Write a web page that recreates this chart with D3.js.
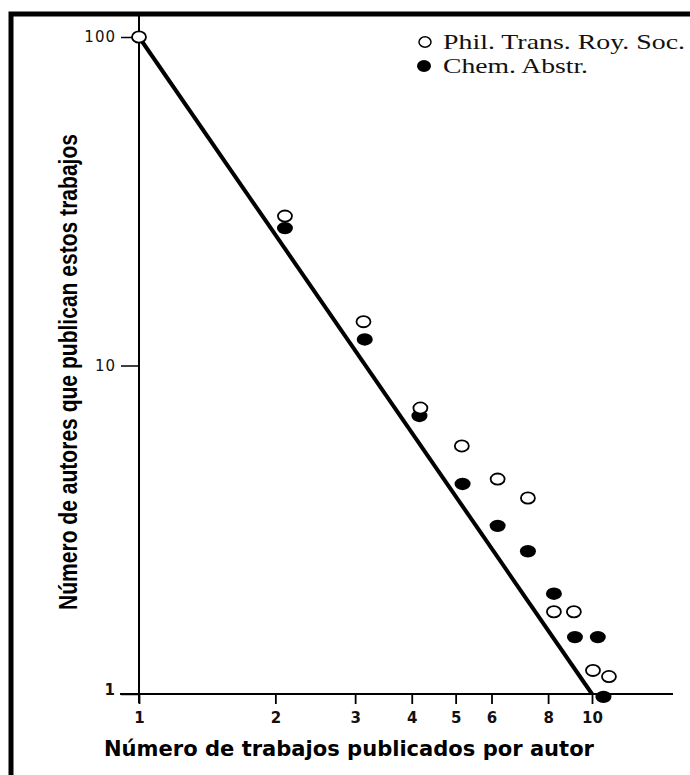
<!DOCTYPE html>
<html>
<head>
<meta charset="utf-8">
<script src="https://cdn.jsdelivr.net/npm/d3@7"></script>
<style>
  body { margin: 0; background: #fff; }
  svg { display: block; }
</style>
</head>
<body>
<div id="svgcontainer"></div>
<script>
var width = 690;
var height = 775;

// Phil. Trans. Roy. Soc. (open circles)
var philX = [1, 2.10, 3.13, 4.18, 5.16, 6.19, 7.22, 8.24, 9.12, 10.05, 10.9];
var philY = [100, 28.5, 13.6, 7.42, 5.69, 4.51, 3.95, 1.78, 1.78, 1.18, 1.13];
// Chem. Abstr. (filled circles)
var chemX = [2.10, 3.15, 4.16, 5.18, 6.19, 7.22, 8.24, 9.17, 10.3, 10.6];
var chemY = [26.2, 12.0, 7.02, 4.36, 3.25, 2.72, 2.02, 1.49, 1.49, 0.98];
// fitted line
var fitX = [1, 10];
var fitY = [100, 1];

var xTicks = [1, 2, 3, 4, 5, 6, 8, 10];
var yTicks = [100, 10, 1];
var legendLabels = ["Phil. Trans. Roy. Soc.", "Chem. Abstr."];
var xTitle = "Número de trabajos publicados por autor";
var yTitle = "Número de autores que publican estos trabajos";

function drawChart() {
    var svg = d3.select("#svgcontainer").append("svg").attr("width", width).attr("height", height);

    svg.append("rect").attr("x", 0).attr("y", 0).attr("width", width).attr("height", height).attr("fill", "#fff");
    // scanned frame, cut on the right and at the bottom
    svg.append("rect").attr("x", 11).attr("y", 14).attr("width", 720).attr("height", 800)
        .attr("fill", "none").attr("stroke", "#000").attr("stroke-width", 5);

    var x = d3.scaleLog().domain([1, 10]).range([139, 592]);
    var y = d3.scaleLog().domain([1, 100]).range([694, 37]);

    // axis lines
    svg.append("line").attr("x1", x(1)).attr("y1", 15).attr("x2", x(1)).attr("y2", 703)
        .attr("stroke", "#000").attr("stroke-width", 2);
    svg.append("line").attr("x1", 120).attr("y1", y(1)).attr("x2", 673).attr("y2", y(1))
        .attr("stroke", "#000").attr("stroke-width", 2);

    var xAxis = svg.append("g").attr("transform", "translate(0," + y(1) + ")")
        .call(d3.axisBottom(x).tickValues(xTicks).tickFormat(d3.format("d")).tickSize(10).tickPadding(8));
    xAxis.attr("font-size", null).attr("font-family", null);
    xAxis.select(".domain").remove();
    xAxis.selectAll(".tick line").attr("stroke", "#000").attr("stroke-width", 1.8);
    xAxis.selectAll(".tick text").attr("fill", "#111")
        .attr("font-family", "DejaVu Sans").attr("font-weight", "bold").attr("font-size", "15px");

    var yAxis = svg.append("g").attr("transform", "translate(" + x(1) + ",0)")
        .call(d3.axisLeft(y).tickValues(yTicks).tickFormat(d3.format("d")).tickSize(18).tickPadding(5));
    yAxis.attr("font-size", null).attr("font-family", null);
    yAxis.select(".domain").remove();
    yAxis.selectAll(".tick line").attr("stroke", "#000").attr("stroke-width", 1.5);
    yAxis.selectAll(".tick text").attr("fill", "#111")
        .attr("font-family", "DejaVu Sans").attr("font-size", "15px").attr("letter-spacing", "1px")
        .attr("font-weight", function(d) { return d == 1 ? "bold" : "normal"; })
        .attr("dy", function(d) { return d == 1 ? "0" : "0.32em"; });

    // fitted line
    var line = d3.line().x(function(d) { return x(d[0]); }).y(function(d) { return y(d[1]); });
    svg.append("path").datum(d3.zip(fitX, fitY)).attr("d", line)
        .attr("fill", "none").attr("stroke", "#000").attr("stroke-width", 4);

    // points
    svg.selectAll("ellipse.chem").data(d3.zip(chemX, chemY)).enter().append("ellipse")
        .attr("class", "chem")
        .attr("cx", function(d) { return x(d[0]); }).attr("cy", function(d) { return y(d[1]); })
        .attr("rx", 8).attr("ry", 6.2).attr("fill", "#000");
    svg.selectAll("ellipse.phil").data(d3.zip(philX, philY)).enter().append("ellipse")
        .attr("class", "phil")
        .attr("cx", function(d) { return x(d[0]); }).attr("cy", function(d) { return y(d[1]); })
        .attr("rx", 7).attr("ry", 5.6).attr("fill", "#fff").attr("stroke", "#000").attr("stroke-width", 1.8);

    // legend
    svg.append("ellipse").attr("cx", 425).attr("cy", 42).attr("rx", 6).attr("ry", 5.2)
        .attr("fill", "#fff").attr("stroke", "#000").attr("stroke-width", 1.5);
    svg.append("ellipse").attr("cx", 424).attr("cy", 66).attr("rx", 7).attr("ry", 6)
        .attr("fill", "#000");
    var legendLen = [242, 145];
    legendLabels.forEach(function(t, i) {
        svg.append("text").attr("x", 443).attr("y", 49 + i * 24)
            .attr("font-family", "Liberation Serif").attr("font-size", 21)
            .attr("textLength", legendLen[i]).attr("lengthAdjust", "spacingAndGlyphs")
            .attr("fill", "#111").text(t);
    });

    // axis titles
    svg.append("text").attr("x", 104).attr("y", 756)
        .attr("font-family", "DejaVu Sans").attr("font-weight", "bold").attr("font-size", 22)
        .attr("textLength", 490).attr("lengthAdjust", "spacingAndGlyphs")
        .attr("fill", "#000").text(xTitle);

    svg.append("text").attr("transform", "translate(77,372) rotate(-90)")
        .attr("text-anchor", "middle")
        .attr("font-family", "Liberation Sans Narrow, Liberation Sans").attr("font-weight", "bold")
        .attr("font-size", 25)
        .attr("textLength", 476).attr("lengthAdjust", "spacingAndGlyphs")
        .attr("fill", "#000").text(yTitle);
}
drawChart();
</script>
</body>
</html>
